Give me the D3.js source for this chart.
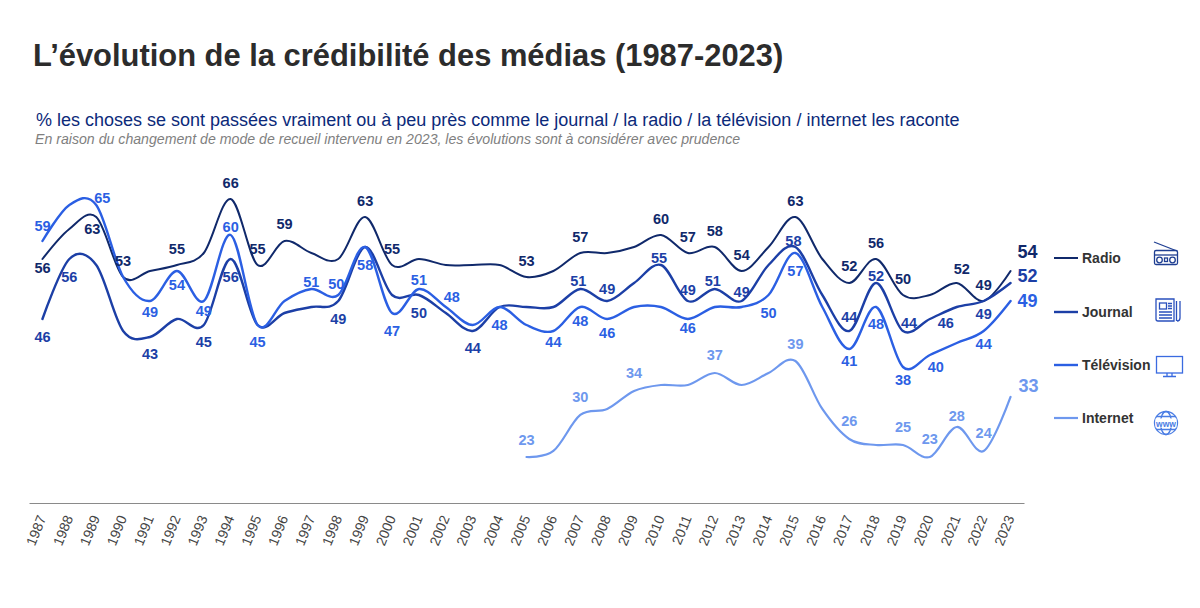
<!DOCTYPE html>
<html>
<head>
<meta charset="utf-8">
<script src="https://d3js.org/d3.v7.min.js"></script>
<style type="text/css">
  body { margin: 0; background: white; }
  svg { display: block; }
  text { font-family: "Liberation Sans", Arial, sans-serif; }
</style>
</head>
<body>
<div id="graph"></div>
<script>
  const title = 'L’évolution de la crédibilité des médias (1987-2023)';
  const subtitle = '% les choses se sont passées vraiment ou à peu près comme le journal / la radio / la télévision / internet les raconte';
  const note = 'En raison du changement de mode de recueil intervenu en 2023, les évolutions sont à considérer avec prudence';

  const years = d3.range(1987, 2024);

  // one value per year
  const radio = [56, 61, 63, 53, 54, 55, 57, 66, 55, 59, 57, 56, 63, 55, 56, 55, 55, 55, 53, 54, 57, 57, 58, 60, 57, 58, 54, 58, 63, 56, 52, 56, 50, 50, 52, 49, 54];
  const journal = [46, 56, 55, 44, 43, 46, 45, 56, 45, 47, 48, 49, 58, 50, 50, 47, 44, 48, 48, 48, 51, 49, 52, 55, 49, 51, 49, 55, 58, 50, 44, 52, 44, 46, 48, 49, 52];
  const television = [59, 65, 65, 53, 49, 54, 49, 60, 45, 49, 51, 50, 58, 47, 51, 48, 45, 48, 45, 44, 48, 46, 48, 48, 46, 48, 48, 50, 57, 48, 41, 48, 38, 40, 42, 44, 49];
  const internet = [null, null, null, null, null, null, null, null, null, null, null, null, null, null, null, null, null, null, 23, 24, 30, 31, 34, 35, 35, 37, 35, 37, 39, 31, 26, 25, 25, 23, 28, 24, 33];

  const seriesNames = ['Radio', 'Journal', 'Télévision', 'Internet'];
  const seriesValues = [radio, journal, television, internet];
  const colors = ['#10296b', '#1c3fa6', '#2b5fe3', '#6e98ee'];
  const widths = [2, 2.4, 2.4, 2.2];

  // which years carry a label, and where it sits relative to its point [dx, dy]
  const labelOffsets = [
    {1987: [0, 9], 1989: [-4, 12], 1990: [0, -16], 1992: [0, -16], 1994: [0, -16], 1995: [0, -16], 1996: [0, -17],
     1999: [0, -16], 2000: [0, -16], 2005: [0, -16], 2007: [0, -16], 2010: [0, -16], 2011: [0, -16], 2012: [0, -16],
     2013: [0, -16], 2015: [0, -16], 2017: [0, -17], 2018: [0, -16], 2019: [0, -16], 2021: [5, -14], 2022: [0, -16], 2023: [17, -19]},
    {1987: [0, 18], 1988: [0, 18], 1991: [0, 17], 1993: [0, 17], 1994: [0, 18], 1998: [0, 18], 2001: [0, 18],
     2003: [0, 17], 2007: [-2, -8], 2008: [0, -12], 2010: [-2, -7], 2011: [0, -11], 2012: [-2, -8], 2013: [0, -9],
     2015: [-2, -6], 2017: [0, -14], 2018: [0, -7], 2019: [6, -8], 2020: [16, 4], 2022: [0, 13], 2023: [17, -7]},
    {1987: [0, -15], 1989: [6, -7], 1991: [0, 11], 1992: [0, 14], 1993: [0, 10], 1994: [0, -8], 1995: [0, 17],
     1997: [0, -7], 1998: [-2, -11], 1999: [0, 18], 2000: [0, 18], 2001: [0, -9], 2002: [6, -10], 2004: [0, 18],
     2006: [0, 11], 2007: [0, 14], 2008: [0, 14], 2011: [0, 9], 2014: [0, 18], 2015: [0, 18], 2017: [0, 12],
     2018: [0, 17], 2019: [0, 13], 2020: [6, 12], 2022: [0, 13], 2023: [17, 0]},
    {2005: [0, -17], 2007: [0, -18], 2009: [0, -18], 2012: [0, -18], 2015: [0, -17], 2017: [0, -18], 2019: [0, -18],
     2020: [0, -18], 2021: [0, -11], 2022: [0, -18], 2023: [18, -11]}
  ];

  var width = 1200, height = 608;

  var svg = d3.select('#graph')
    .append('svg')
    .attr('width', width)
    .attr('height', height);

  svg.append('text').attr('x', 33).attr('y', 66)
    .attr('font-size', 30.9).attr('font-weight', 'bold').attr('fill', '#2c2c2c')
    .text(title);
  svg.append('text').attr('x', 36).attr('y', 126)
    .attr('font-size', 18).attr('fill', '#0c2a7a')
    .text(subtitle);
  svg.append('text').attr('x', 35).attr('y', 144)
    .attr('font-size', 14.15).attr('font-style', 'italic').attr('fill', '#7f7f7f')
    .text(note);

  // scales
  var x = d3.scalePoint().domain(years).range([29, 1024]).padding(0.5);
  var y = d3.scaleLinear().domain([15.33, 66]).range([503, 199]);

  // X axis
  var axis = svg.append('g')
    .attr('transform', 'translate(0,503)')
    .call(d3.axisBottom(x).tickSize(0));
  axis.select('.domain').attr('stroke', '#8a8a8a').attr('stroke-width', 1);
  axis.selectAll('text')
    .attr('font-family', '"Liberation Sans", Arial, sans-serif')
    .attr('font-size', 14)
    .attr('fill', '#444')
    .attr('text-anchor', 'end')
    .attr('x', 0).attr('y', 0)
    .attr('dy', '0.35em')
    .attr('transform', 'translate(-1,13) rotate(-68)');

  // lines, the internet one first and television on top
  var line = d3.line()
    .defined(function (d) { return d !== null; })
    .x(function (d, i) { return x(years[i]); })
    .y(function (d) { return y(d); })
    .curve(d3.curveCatmullRom.alpha(0));

  [3, 0, 1, 2].forEach(function (s) {
    svg.append('path')
      .attr('d', line(seriesValues[s]))
      .attr('fill', 'none')
      .attr('stroke', colors[s])
      .attr('stroke-width', widths[s])
      .attr('stroke-linecap', 'round');
  });

  // value labels
  seriesValues.forEach(function (values, s) {
    var labelYears = Object.keys(labelOffsets[s]).map(Number);
    svg.append('g').selectAll('text')
      .data(labelYears)
      .enter()
      .append('text')
      .attr('x', function (d) { return x(d) + labelOffsets[s][d][0]; })
      .attr('y', function (d) { return y(values[years.indexOf(d)]) + labelOffsets[s][d][1]; })
      .attr('dy', '0.36em')
      .attr('text-anchor', 'middle')
      .attr('font-weight', 'bold')
      .attr('font-size', function (d) { return d === 2023 ? 18 : 14.5; })
      .attr('fill', colors[s])
      .text(function (d) { return values[years.indexOf(d)]; });
  });

  // legend
  const legendY = [258, 312, 365, 418];
  seriesNames.forEach(function (name, s) {
    svg.append('line')
      .attr('x1', 1054).attr('x2', 1078)
      .attr('y1', legendY[s]).attr('y2', legendY[s])
      .attr('stroke', colors[s]).attr('stroke-width', widths[s]);
    svg.append('text')
      .attr('x', 1082).attr('y', legendY[s] + 5)
      .attr('font-size', 14).attr('font-weight', 'bold').attr('fill', '#333')
      .text(name);
  });

  // icons
  function icon(color) {
    return svg.append('g').attr('fill', 'none').attr('stroke', color).attr('stroke-width', 1.3);
  }

  var r = icon('#1f3f92');
  r.append('line').attr('x1', 1154).attr('y1', 242).attr('x2', 1177).attr('y2', 251);
  r.append('rect').attr('x', 1154.5).attr('y', 250.5).attr('width', 23).attr('height', 14).attr('rx', 1.5);
  r.append('line').attr('x1', 1155).attr('y1', 255).attr('x2', 1177).attr('y2', 255);
  r.append('circle').attr('cx', 1159.5).attr('cy', 260).attr('r', 2.8);
  r.append('circle').attr('cx', 1172.5).attr('cy', 260).attr('r', 2.8);
  r.append('rect').attr('x', 1164.5).attr('y', 258).attr('width', 3).attr('height', 3.5);

  var n = icon('#2a50bd');
  n.append('path').attr('d', 'M1174 321h-16a2 2 0 0 1-2-2v-20h18z');
  n.append('rect').attr('x', 1159.5).attr('y', 303).attr('width', 7).attr('height', 6);
  n.append('path').attr('d', 'M1168 303.500h4M1168 306h4M1168 308.500h4M1159 312h13M1159 315h13M1159 318h13');
  n.append('path').attr('d', 'M1176.500 301v20M1180 301v17a3 3 0 0 1-3 3');

  var t = icon('#3a6be0');
  t.append('rect').attr('x', 1156.5).attr('y', 356.5).attr('width', 26).attr('height', 16.5).attr('stroke-width', 1.3);
  t.append('path').attr('d', 'M1167 373v3.500M1172 373v3.500M1163 376.500h13');

  var g = icon('#4a7de4');
  g.append('circle').attr('cx', 1166).attr('cy', 423).attr('r', 11.5);
  g.append('ellipse').attr('cx', 1166).attr('cy', 423).attr('rx', 5.5).attr('ry', 11.5);
  g.append('path').attr('d', 'M1156.500 416.500h19M1156.500 429.500h19');
  g.append('rect').attr('x', 1155.5).attr('y', 418.5).attr('width', 21).attr('height', 9).attr('fill', 'white').attr('stroke', 'none');
  g.append('text').attr('x', 1166).attr('y', 426.5).attr('text-anchor', 'middle')
    .attr('font-size', 8.5).attr('font-weight', 'bold').attr('fill', '#4a7de4').attr('stroke', 'none')
    .text('www');
</script>
</body>
</html>
